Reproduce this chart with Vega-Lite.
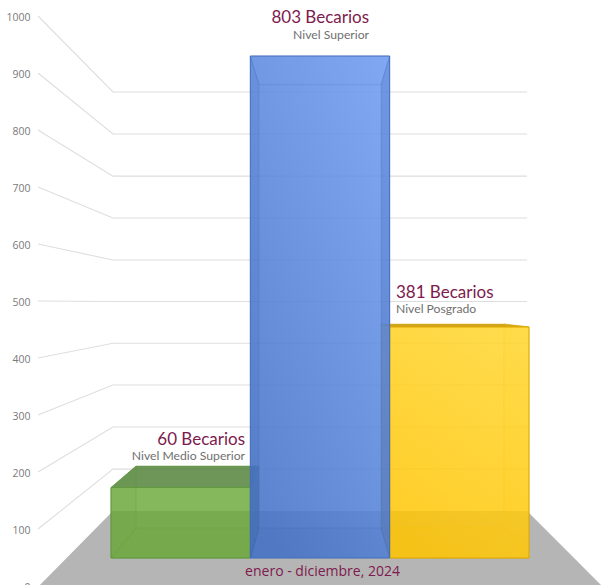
{
"$schema":"https://vega.github.io/schema/vega-lite/v6.json",
"width":567,"height":586,"autosize":"none","padding":{"left":38,"top":0,"right":0,"bottom":0},
"background":"white","view":{"stroke":null},
"datasets":{
"grid":[
{"level":1000,"u":-0.524,"top":1000},{"level":1000,"u":0.014,"top":866.7},{"level":1000,"u":2.986,"top":866.7},
{"level":900,"u":-0.524,"top":900},{"level":900,"u":0.014,"top":793},{"level":900,"u":2.986,"top":793},
{"level":800,"u":-0.524,"top":800},{"level":800,"u":0.014,"top":719},{"level":800,"u":2.986,"top":719},
{"level":700,"u":-0.524,"top":700},{"level":700,"u":0.014,"top":645.6},{"level":700,"u":2.986,"top":645.6},
{"level":600,"u":-0.524,"top":600},{"level":600,"u":0.014,"top":572},{"level":600,"u":2.986,"top":572},
{"level":500,"u":-0.524,"top":500},{"level":500,"u":0.014,"top":499},{"level":500,"u":2.986,"top":499},
{"level":400,"u":-0.524,"top":400},{"level":400,"u":0.014,"top":426},{"level":400,"u":2.986,"top":426},
{"level":300,"u":-0.524,"top":300},{"level":300,"u":0.014,"top":352.6},{"level":300,"u":2.986,"top":352.6},
{"level":200,"u":-0.524,"top":200},{"level":200,"u":0.014,"top":279},{"level":200,"u":2.986,"top":279},
{"level":100,"u":-0.524,"top":100},{"level":100,"u":0.014,"top":205},{"level":100,"u":2.986,"top":205}
],
"floor":[
{"u":-0.51,"top":1.75,"bottom":1.75},{"u":0.014,"top":131.6,"bottom":1.75},{"u":2.986,"top":131.6,"bottom":1.75},{"u":3.517,"top":1.75,"bottom":1.75}
],
"faces":[
{"bar":"Medio Superior","face":"front","u":0,"top":172.8,"bottom":49.1},{"bar":"Medio Superior","face":"front","u":1,"top":172.8,"bottom":49.1},
{"bar":"Medio Superior","face":"top","u":0,"top":172.8,"bottom":172.8},{"bar":"Medio Superior","face":"top","u":0.18,"top":210.5,"bottom":172.8},{"bar":"Medio Superior","face":"top","u":1,"top":210.5,"bottom":172.8},{"bar":"Medio Superior","face":"top","u":1.062,"top":210.5,"bottom":210.5},
{"bar":"Medio Superior","face":"left","u":0,"top":172.8,"bottom":49.1},{"bar":"Medio Superior","face":"left","u":0.18,"top":210.5,"bottom":101.8},
{"bar":"Medio Superior","face":"right","u":1,"top":172.8,"bottom":49.1},{"bar":"Medio Superior","face":"right","u":1.062,"top":210.5,"bottom":101.8},
{"bar":"Medio Superior","face":"base","u":0,"top":49.1,"bottom":49.1},{"bar":"Medio Superior","face":"base","u":0.18,"top":101.8,"bottom":49.1},{"bar":"Medio Superior","face":"base","u":1,"top":101.8,"bottom":49.1},{"bar":"Medio Superior","face":"base","u":1.062,"top":101.8,"bottom":101.8},
{"bar":"Superior","face":"front","u":1,"top":929.8,"bottom":49.1},{"bar":"Superior","face":"front","u":2,"top":929.8,"bottom":49.1},
{"bar":"Superior","face":"top","u":1,"top":929.8,"bottom":929.8},{"bar":"Superior","face":"top","u":1.062,"top":929.8,"bottom":879.5},{"bar":"Superior","face":"top","u":1.938,"top":929.8,"bottom":879.5},{"bar":"Superior","face":"top","u":2,"top":929.8,"bottom":929.8},
{"bar":"Superior","face":"left","u":1,"top":929.8,"bottom":49.1},{"bar":"Superior","face":"left","u":1.062,"top":879.5,"bottom":101.8},
{"bar":"Superior","face":"right","u":1.938,"top":879.5,"bottom":101.8},{"bar":"Superior","face":"right","u":2,"top":929.8,"bottom":49.1},
{"bar":"Superior","face":"base","u":1,"top":49.1,"bottom":49.1},{"bar":"Superior","face":"base","u":1.062,"top":101.8,"bottom":49.1},{"bar":"Superior","face":"base","u":1.938,"top":101.8,"bottom":49.1},{"bar":"Superior","face":"base","u":2,"top":49.1,"bottom":49.1},
{"bar":"Posgrado","face":"front","u":2,"top":454.4,"bottom":49.1},{"bar":"Posgrado","face":"front","u":3,"top":454.4,"bottom":49.1},
{"bar":"Posgrado","face":"top","u":1.938,"top":459.6,"bottom":459.6},{"bar":"Posgrado","face":"top","u":2,"top":459.6,"bottom":454.4},{"bar":"Posgrado","face":"top","u":2.82,"top":459.6,"bottom":454.4},{"bar":"Posgrado","face":"top","u":3,"top":454.4,"bottom":454.4},
{"bar":"Posgrado","face":"left","u":1.938,"top":459.6,"bottom":101.8},{"bar":"Posgrado","face":"left","u":2,"top":454.4,"bottom":49.1},
{"bar":"Posgrado","face":"right","u":2.82,"top":459.6,"bottom":101.8},{"bar":"Posgrado","face":"right","u":3,"top":454.4,"bottom":49.1},
{"bar":"Posgrado","face":"base","u":1.938,"top":101.8,"bottom":101.8},{"bar":"Posgrado","face":"base","u":2,"top":101.8,"bottom":49.1},{"bar":"Posgrado","face":"base","u":2.82,"top":101.8,"bottom":49.1},{"bar":"Posgrado","face":"base","u":3,"top":49.1,"bottom":49.1}
],
"labels":[
{"role":"bigR","u":1.852,"top":997,"label":"803 Becarios"},
{"role":"smallR","u":1.852,"top":967.5,"label":"Nivel Superior"},
{"role":"bigR","u":0.962,"top":256.5,"label":"60 Becarios"},
{"role":"smallR","u":0.962,"top":227.5,"label":"Nivel Medio Superior"},
{"role":"bigL","u":2.045,"top":514,"label":"381 Becarios"},
{"role":"smallL","u":2.045,"top":485.5,"label":"Nivel Posgrado"},
{"role":"period","u":1.518,"top":25,"label":"enero - diciembre, 2024"}
]
},
"encoding":{
"x":{"field":"u","type":"quantitative","scale":{"domain":[-0.524,3.5455],"nice":false,"zero":false},"axis":null},
"y":{"field":"top","type":"quantitative","stack":null,"scale":{"domain":[0,1028.07],"nice":false,"zero":false},"axis":{"title":null,"values":[0,100,200,300,400,500,600,700,800,900,1000],"format":"d","domain":false,"ticks":false,"grid":false,"labelPadding":8,"labelOffset":1.5,"labelFontSize":10.5,"labelFont":"Open Sans","labelColor":"#7a7a7a"}},
"y2":{"field":"bottom"}
},
"layer":[
{"data":{"name":"grid"},"mark":{"type":"line","stroke":"#dedede","strokeWidth":1.1},
 "encoding":{"y2":null,"detail":{"field":"level"}}},
{"data":{"name":"floor"},"mark":{"type":"area","orient":"vertical","fill":"#b5b5b5"}},
{"data":{"name":"faces"},"transform":[{"filter":"datum.bar==='Medio Superior' && datum.face!=='front'"}],"mark":{"type":"area","orient":"vertical","stroke":"#5f9440","strokeWidth":0.8,"strokeOpacity":0.6},
 "encoding":{"fill":{"field":"face","type":"nominal","legend":null,"scale":{"domain":["top","left","right","base"],"range":["rgba(90,135,65,0.88)","rgba(100,160,60,0.12)","rgba(90,130,60,0.7)","rgba(100,160,60,0.15)"]}}}},
{"data":{"name":"faces"},"transform":[{"filter":"datum.bar==='Medio Superior' && datum.face==='front'"}],"mark":{"type":"area","orient":"vertical","fill":"#6aa739","fillOpacity":0.82,"stroke":"#5f9a3c","strokeWidth":1}},
{"data":{"name":"faces"},"transform":[{"filter":"datum.bar==='Posgrado' && datum.face!=='front'"}],"mark":{"type":"area","orient":"vertical","stroke":"#d8a608","strokeWidth":0.8,"strokeOpacity":0.6},
 "encoding":{"fill":{"field":"face","type":"nominal","legend":null,"scale":{"domain":["top","left","right","base"],"range":["rgba(205,160,20,0.95)","rgba(255,195,0,0.6)","rgba(255,195,0,0.1)","rgba(255,195,0,0.1)"]}}}},
{"data":{"name":"faces"},"transform":[{"filter":"datum.bar==='Posgrado' && datum.face==='front'"}],"mark":{"type":"area","orient":"vertical","fillOpacity":0.85,"stroke":"#dfa800","strokeWidth":1,
 "fill":{"gradient":"linear","x1":0.7,"y1":0,"x2":0.3,"y2":1,"stops":[{"offset":0,"color":"#ffd52c"},{"offset":1,"color":"#ffc400"}]}}},
{"data":{"name":"faces"},"transform":[{"filter":"datum.bar==='Superior' && datum.face==='front'"}],"mark":{"type":"area","orient":"vertical","fillOpacity":0.88,"stroke":"#4a72c0","strokeWidth":1,
 "fill":{"gradient":"linear","x1":0.9,"y1":0,"x2":0.2,"y2":1,"stops":[{"offset":0,"color":"#6f9cf0"},{"offset":1,"color":"#4673c8"}]}}},
{"data":{"name":"faces"},"transform":[{"filter":"datum.bar==='Superior' && datum.face!=='front'"}],"mark":{"type":"area","orient":"vertical","stroke":"#3f68b4","strokeWidth":0.7,"strokeOpacity":0.3},
 "encoding":{"fill":{"field":"face","type":"nominal","legend":null,"scale":{"domain":["top","left","right","base"],"range":["rgba(120,165,240,0.05)","rgba(40,80,160,0.1)","rgba(40,80,160,0.2)","rgba(40,80,160,0.05)"]}}}},
{"data":{"name":"labels"},"transform":[{"filter":"datum.role==='bigR'"}],"mark":{"type":"text","align":"right","baseline":"middle","font":"Lato","fontSize":17,"fill":"#7d1a4e"},"encoding":{"y2":null,"text":{"field":"label"}}},
{"data":{"name":"labels"},"transform":[{"filter":"datum.role==='smallR'"}],"mark":{"type":"text","align":"right","baseline":"middle","font":"Lato","fontSize":12.2,"fill":"#6f6f6f"},"encoding":{"y2":null,"text":{"field":"label"}}},
{"data":{"name":"labels"},"transform":[{"filter":"datum.role==='bigL'"}],"mark":{"type":"text","align":"left","baseline":"middle","font":"Lato","fontSize":17,"fill":"#7d1a4e"},"encoding":{"y2":null,"text":{"field":"label"}}},
{"data":{"name":"labels"},"transform":[{"filter":"datum.role==='smallL'"}],"mark":{"type":"text","align":"left","baseline":"middle","font":"Lato","fontSize":12.2,"fill":"#6f6f6f"},"encoding":{"y2":null,"text":{"field":"label"}}},
{"data":{"name":"labels"},"transform":[{"filter":"datum.role==='period'"}],"mark":{"type":"text","align":"center","baseline":"middle","font":"Open Sans","fontSize":14,"fill":"#7d1a4e"},"encoding":{"y2":null,"text":{"field":"label"}}}
],
"resolve":{"scale":{"fill":"independent"}}
}
